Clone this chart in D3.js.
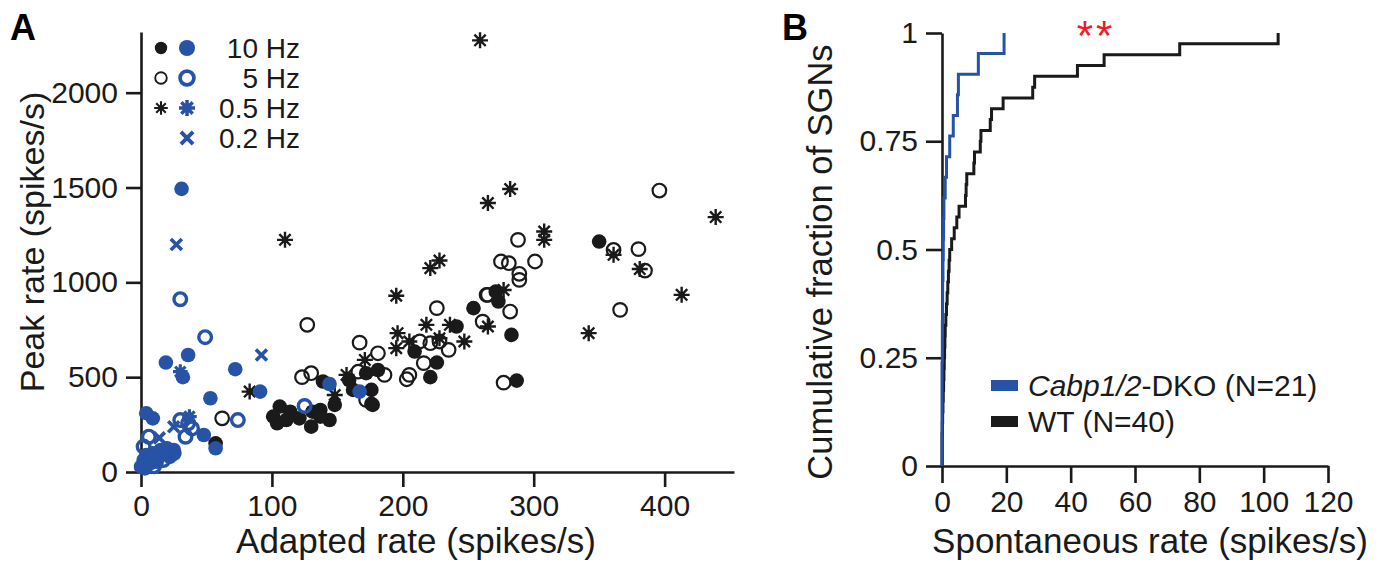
<!DOCTYPE html>
<html>
<head>
<meta charset="utf-8">
<script src="https://cdn.jsdelivr.net/npm/d3@7"></script>
<style>
  body { margin: 0; background: #fff; }
  svg { display: block; font-family: "Liberation Sans", Arial, sans-serif; }
  .axis path, .axis line { stroke: #1a1a1a; stroke-width: 2.6; }
  .axis text { font-size: 30px; fill: #1a1a1a; font-family: "Liberation Sans", Arial, sans-serif; }
</style>
</head>
<body>
<svg width="1387" height="565"></svg>
<script>
// panel A: [adapted rate, peak rate]
var wt10 = [[350,1215],[273,899],[271,951],[254,864],[283,723],[241,767],[209,635],[226,577],[221,500],[287,482],
  [159,485],[162,433],[172,521],[176,433],[177,354],[148,354],[144,274],[137,327],[181,538],[176,359],
  [139,477],[106,345],[114,318],[101,292],[104,257],[121,283],[131,318],[137,292],[130,239],[111,274],[57,151]]
var wt5 = [[396,1484],[288,1224],[361,1171],[380,1175],[385,1062],[275,1110],[281,1101],[301,1110],[289,1045],
  [264,934],[289,1013],[226,864],[265,934],[282,846],[366,855],[261,793],[167,682],[181,626],[213,688],
  [221,679],[228,688],[235,644],[216,574],[205,512],[203,489],[277,471],[166,529],[186,512],[172,380],
  [127,776],[123,500],[130,521],[62,283]]
var wt05 = [[259,2276],[282,1492],[265,1418],[439,1344],[308,1268],[308,1224],[361,1145],[381,1070],[228,1115],
  [221,1075],[195,929],[413,934],[277,960],[342,732],[265,767],[236,776],[218,776],[247,688],[196,732],
  [195,653],[205,688],[228,705],[171,591],[157,512],[148,406],[83,424],[110,1224]]
var ko10 = [[31,1493],[36,617],[19,577],[32,500],[72,542],[91,424],[53,389],[144,464],[167,424],[4,310],
  [9,283],[48,195],[57,125],[20,125],[25,116],[15,116],[9,99],[4,90],[2,63],[0,28],[12,54],[7,46],
  [22,80],[3,19],[8,70],[16,95]]
var ko5 = [[30,911],[49,711],[125,348],[30,274],[36,257],[39,230],[34,186],[74,274],[6,186],[2,134],
  [17,63],[10,30],[25,100]]
var ko05 = [[30,529],[37,292],[20,110]]
var ko02 = [[27,1200],[92,617],[25,239],[14,180]]

var xTicksA = [0,100,200,300,400]
var yTicksA = [0,500,1000,1500,2000]

// panel B: spontaneous rates, sorted
var wtRates = [0,0,0,0.1,0.2,0.3,0.4,0.5,0.6,0.7,
  0.8,0.9,1.0,1.2,1.4,1.6,1.8,2.0,2.2,2.4,
  3.0,3.8,4.6,5.3,7.3,7.5,7.7,9.9,10.1,11.9,
  12.1,15.0,15.4,19.0,28.2,28.8,42.1,50.4,73.9,104.5]
var koRates = [0,0,0,0,0,0.1,0.1,0.2,0.2,0.3,0.4,0.5,0.6,1.0,1.4,2.4,3.5,4.8,5.1,11.3,19.3]

var xTicksB = [0,20,40,60,80,100,120]
var yTicksB = [0,0.25,0.5,0.75,1]

var blue = "#2653a5", black = "#1a1a1a"

var svg = d3.select("svg")

// ---------- panel A ----------
var xA = d3.scaleLinear().domain([0,453]).range([141,734])
var yA = d3.scaleLinear().domain([0,2320]).range([472,32])

svg.append("g").attr("class","axis")
  .attr("transform","translate(0,472)")
  .call(d3.axisBottom(xA).tickValues(xTicksA).tickSize(15).tickSizeOuter(0).tickPadding(8))
svg.append("g").attr("class","axis")
  .attr("transform","translate(141,0)")
  .call(d3.axisLeft(yA).tickValues(yTicksA).tickFormat(d3.format("d")).tickSize(15).tickSizeOuter(0).tickPadding(8))

function star(r){
  var p = ""
  for (var k=0;k<4;k++){
    var a = k*Math.PI/4, c = Math.cos(a)*r, s = Math.sin(a)*r
    p += "M"+(-c)+","+(-s)+"L"+c+","+s
  }
  return p
}
var cross = "M-5.5,-5.5L5.5,5.5M-5.5,5.5L5.5,-5.5"

function dots(g, data, type, col){
  var sel = g.selectAll(null).data(data).enter().append("g")
    .attr("transform", function(d){ return "translate(" + xA(d[0]) + "," + yA(d[1]) + ")" })
  drawMark(sel, type, col)
}
function drawMark(sel, type, col){
  if (type=="filled") sel.append("circle").attr("r",7.3).attr("fill",col)
  if (type=="open") sel.append("circle").attr("r", col==blue ? 6.3 : 6.8).attr("fill","none")
      .attr("stroke",col).attr("stroke-width", col==blue ? 3.4 : 2.2)
  if (type=="star"){
    sel.append("path").attr("d", star(col==blue ? 7.3 : 8)).attr("stroke",col)
      .attr("stroke-width", col==blue ? 3.2 : 2.4)
    sel.append("circle").attr("r", col==blue ? 4 : 3.2).attr("fill",col)
  }
  if (type=="x") sel.append("path").attr("d",cross).attr("stroke",col).attr("stroke-width",3.6)
}

var gA = svg.append("g")
dots(gA, wt10, "filled", black)
dots(gA, wt5, "open", black)
dots(gA, wt05, "star", black)
dots(gA, ko10, "filled", blue)
dots(gA, ko5, "open", blue)
dots(gA, ko05, "star", blue)
dots(gA, ko02, "x", blue)

// legend A
var legA = [["filled","10 Hz"],["open","5 Hz"],["star","0.5 Hz"],["x","0.2 Hz"]]
legA.forEach(function(l, i){
  var y = 48 + i*30
  if (l[0] != "x") drawMark(svg.append("g").attr("transform","translate(161,"+y+") scale(0.85)"), l[0], black)
  drawMark(svg.append("g").attr("transform","translate(187,"+y+") scale(1.1)"), l[0], blue)
  svg.append("text").attr("x",300).attr("y",y+10).attr("text-anchor","end")
    .attr("font-size",28).attr("fill",black).text(l[1])
})

svg.append("text").attr("x",10).attr("y",40).attr("font-size",36).attr("font-weight","bold").text("A")
svg.append("text").attr("x",416).attr("y",553).attr("text-anchor","middle").attr("font-size",35)
  .attr("fill",black).text("Adapted rate (spikes/s)")
svg.append("text").attr("transform","translate(44,242) rotate(-90)").attr("text-anchor","middle")
  .attr("font-size",34).attr("fill",black).text("Peak rate (spikes/s)")

// ---------- panel B ----------
var xB = d3.scaleLinear().domain([0,120]).range([942,1328])
var yB = d3.scaleLinear().domain([0,1]).range([466,33])

svg.append("g").attr("class","axis")
  .attr("transform","translate(0,466)")
  .call(d3.axisBottom(xB).tickValues(xTicksB).tickSize(17).tickSizeOuter(0).tickPadding(8))
svg.append("g").attr("class","axis")
  .attr("transform","translate(942,0)")
  .call(d3.axisLeft(yB).tickValues(yTicksB).tickFormat(function(d){ return String(d) })
    .tickSize(16).tickSizeOuter(0).tickPadding(8))

function cdf(vals){
  var n = vals.length
  var pts = [[vals[0],0]]
  vals.forEach(function(v,i){ pts.push([v,(i+1)/n]) })
  return pts
}
var stepLine = d3.line().x(function(d){ return xB(d[0]) }).y(function(d){ return yB(d[1]) })
  .curve(d3.curveStepAfter)

svg.append("path").attr("d", stepLine(cdf(wtRates))).attr("fill","none")
  .attr("stroke",black).attr("stroke-width",3)
svg.append("path").attr("d", stepLine(cdf(koRates))).attr("fill","none")
  .attr("stroke",blue).attr("stroke-width",3)

svg.append("text").attr("x",1096).attr("y",50).attr("text-anchor","middle").attr("font-size",42)
  .attr("fill","#ee1c25").attr("letter-spacing",3).text("**")

// legend B
svg.append("rect").attr("x",991).attr("y",380).attr("width",27).attr("height",11).attr("fill",blue)
svg.append("rect").attr("x",991).attr("y",416).attr("width",27).attr("height",11).attr("fill",black)
var t1 = svg.append("text").attr("x",1028).attr("y",396).attr("font-size",30).attr("fill",black)
t1.append("tspan").attr("font-style","italic").text("Cabp1/2")
t1.append("tspan").text("-DKO (N=21)")
svg.append("text").attr("x",1028).attr("y",432).attr("font-size",30).attr("fill",black).text("WT (N=40)")

svg.append("text").attr("x",782).attr("y",40).attr("font-size",36).attr("font-weight","bold").text("B")
svg.append("text").attr("x",1150).attr("y",553).attr("text-anchor","middle").attr("font-size",35)
  .attr("fill",black).text("Spontaneous rate (spikes/s)")
svg.append("text").attr("transform","translate(832,262) rotate(-90)").attr("text-anchor","middle")
  .attr("font-size",34.5).attr("fill",black).text("Cumulative fraction of SGNs")
</script>
</body>
</html>
